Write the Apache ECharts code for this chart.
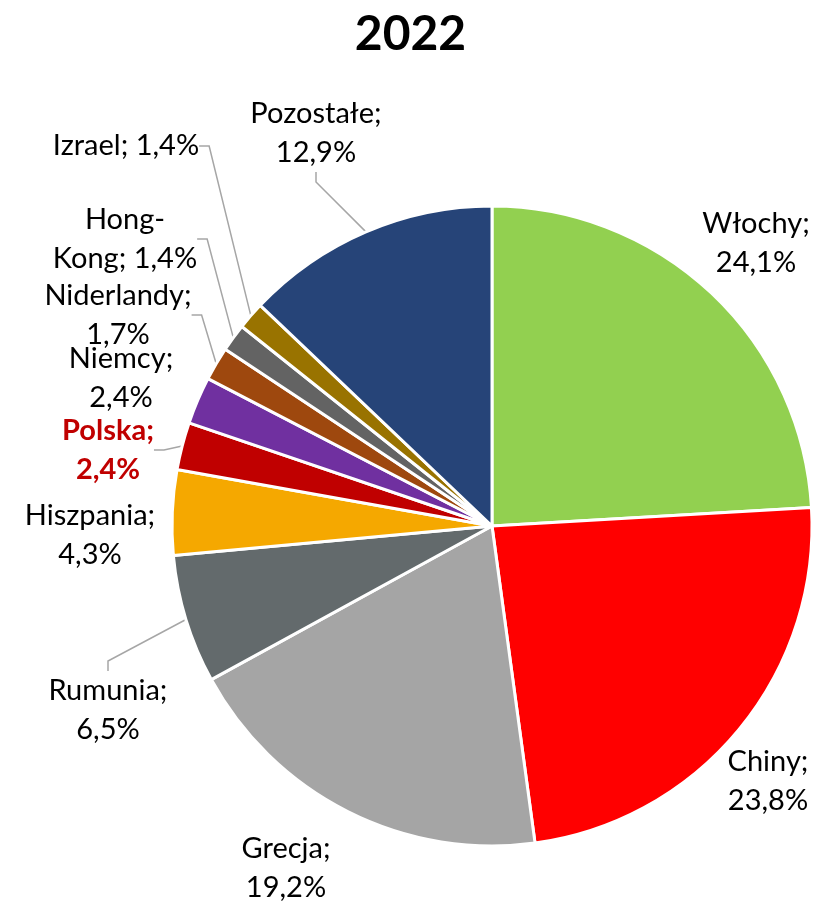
<!DOCTYPE html>
<html>
<head>
<meta charset="utf-8">
<script src="https://cdn.jsdelivr.net/npm/echarts@6/dist/echarts.min.js"></script>
<style>
  html, body { margin: 0; padding: 0; background: #fff; }
  #chart { width: 821px; height: 903px; }
</style>
</head>
<body>
<div id="chart"></div>
<script>
// data (udział w %)
const countries = ['Włochy', 'Chiny', 'Grecja', 'Rumunia', 'Hiszpania', 'Polska', 'Niemcy', 'Niderlandy', 'Hong-Kong', 'Izrael', 'Pozostałe'];
const shares = [24.1, 23.8, 19.2, 6.5, 4.3, 2.4, 2.4, 1.7, 1.4, 1.4, 12.9];
const colors = ['#92d050', '#ff0000', '#a5a5a5', '#636a6c', '#f5a800', '#c00000', '#7030a0', '#9e480e', '#636363', '#997300', '#264478'];
const withLine = [false, false, false, true, false, true, false, true, true, true, true];

// label centres (px)
const labelPos = [
    [756, 243], [768, 781], [286, 868], [108, 710], [90, 535], [108, 450],
    [121, 378], [118, 315], [125, 239], [126, 146], [316, 133]
];

function fmt(v) {
    return v.toFixed(1).replace('.', ',') + '%';
}

const chart = echarts.init(document.getElementById('chart'));

const data = countries.map((name, i) => {
    let text;
    if (name === 'Izrael') {
        text = name + '; ' + fmt(shares[i]);
    } else if (name === 'Hong-Kong') {
        text = 'Hong-\nKong; ' + fmt(shares[i]);
    } else {
        text = name + ';\n' + fmt(shares[i]);
    }
    const item = {
        name: name,
        value: shares[i],
        itemStyle: { color: colors[i] },
        label: { formatter: text },
        labelLine: { show: withLine[i] }
    };
    if (name === 'Polska') {
        item.label.color = '#c00000';
        item.label.fontWeight = 'bold';
    }
    return item;
});

chart.setOption({
    animation: false,
    title: {
        text: '2022',
        left: 'center',
        top: 6,
        textStyle: {
            fontFamily: 'Lato',
            fontWeight: 'bold',
            fontSize: 48,
            color: '#000'
        }
    },
    series: [{
        type: 'pie',
        center: [492, 526],
        radius: [0, 320],
        startAngle: 90,
        clockwise: true,
        itemStyle: {
            borderColor: '#fff',
            borderWidth: 3
        },
        label: {
            show: true,
            position: 'outside',
            fontFamily: 'Lato',
            fontSize: 29,
            lineHeight: 39,
            color: '#000',
            align: 'center',
            overflow: 'none'
        },
        labelLine: {
            lineStyle: { color: '#a6a6a6', width: 1.5 },
            length: 10,
            length2: 10
        },
        labelLayout: function (params) {
            const p = labelPos[params.dataIndex];
            return {
                x: p[0],
                y: p[1],
                align: 'center',
                verticalAlign: 'middle'
            };
        },
        data: data
    }]
});
</script>
</body>
</html>
